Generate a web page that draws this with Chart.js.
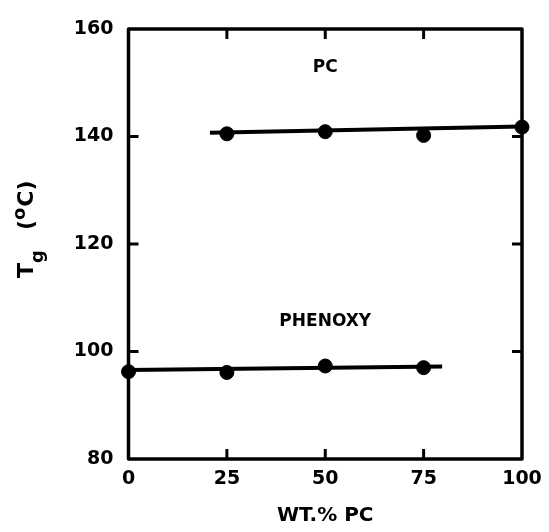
<!DOCTYPE html>
<html>
<head>
<meta charset="utf-8">
<script src="https://cdn.jsdelivr.net/npm/chart.js@4.4.1/dist/chart.umd.min.js"></script>
<style>
  html, body { margin: 0; padding: 0; background: #fff; }
  #wrap { width: 549px; height: 532px; position: relative; }
</style>
</head>
<body>
<div id="wrap"><canvas id="c" width="549" height="532"></canvas></div>
<script>
// Glass transition temperature of PC / phenoxy blends
const wtPC = [0, 25, 50, 75, 100];

// Upper Tg (PC-rich phase)
const pcX = [25, 50, 75, 100];
const pcTg = [140.5, 140.9, 140.2, 141.75];
const pcFitX = [20.7, 100];
const pcFitTg = [140.7, 141.85];

// Lower Tg (phenoxy-rich phase)
const phenoxyX = [0, 25, 50, 75];
const phenoxyTg = [96.25, 96.1, 97.3, 97.0];
const phenoxyFitX = [0, 79.7];
const phenoxyFitTg = [96.55, 97.2];

const xTicks = [0, 25, 50, 75, 100];
const yTicks = [80, 100, 120, 140, 160];

const FONT = '"DejaVu Sans", sans-serif';
const INK = '#000';

const pts = (xs, ys) => xs.map((x, i) => ({ x: x, y: ys[i] }));

// Frame around the plot with short inward tick marks on all four sides
const framePlugin = {
  id: 'frame',
  afterDraw(chart) {
    const { ctx, chartArea: a, scales } = chart;
    ctx.save();
    ctx.strokeStyle = INK;
    ctx.lineWidth = 3.5;
    ctx.lineJoin = 'round';
    ctx.strokeRect(a.left, a.top, a.right - a.left, a.bottom - a.top);
    const len = 10;
    ctx.lineWidth = 3;
    ctx.beginPath();
    xTicks.slice(1, -1).forEach(v => {
      const px = scales.x.getPixelForValue(v);
      ctx.moveTo(px, a.top); ctx.lineTo(px, a.top + len);
      ctx.moveTo(px, a.bottom); ctx.lineTo(px, a.bottom - len);
    });
    yTicks.slice(1, -1).forEach(v => {
      const py = scales.y.getPixelForValue(v);
      ctx.moveTo(a.left, py); ctx.lineTo(a.left + len, py);
      ctx.moveTo(a.right, py); ctx.lineTo(a.right - len, py);
    });
    ctx.stroke();
    ctx.restore();
  }
};

// Curve names and the rotated y-axis title with sub/superscripts
const labelPlugin = {
  id: 'labels',
  afterDraw(chart) {
    const { ctx, scales } = chart;
    ctx.save();
    ctx.fillStyle = INK;
    ctx.textAlign = 'center';
    ctx.textBaseline = 'middle';
    ctx.font = 'bold 17px ' + FONT;
    ctx.fillText('PC', scales.x.getPixelForValue(50), scales.y.getPixelForValue(152.8));
    ctx.fillText('PHENOXY', scales.x.getPixelForValue(50), scales.y.getPixelForValue(105.5));

    // "T_g (°C)" read bottom-to-top
    ctx.translate(33, 278);
    ctx.rotate(-Math.PI / 2);
    ctx.textAlign = 'left';
    ctx.textBaseline = 'alphabetic';
    const big = 'bold 22px ' + FONT;
    const small = 'bold 18px ' + FONT;
    let x = 0;
    ctx.font = big; ctx.fillText('T', x, 0); x += ctx.measureText('T').width;
    ctx.font = small; ctx.fillText('g', x, 10); x += ctx.measureText('g').width + 20;
    ctx.font = big; ctx.fillText('(', x, 0); x += ctx.measureText('(').width;
    ctx.font = small; ctx.fillText('o', x, -8); x += ctx.measureText('o').width + 1;
    ctx.font = big; ctx.fillText('C)', x, 0);
    ctx.restore();
  }
};

new Chart(document.getElementById('c'), {
  type: 'scatter',
  data: {
    datasets: [
      { label: 'PC fit', data: pts(pcFitX, pcFitTg), showLine: true, borderColor: INK, borderWidth: 4, pointRadius: 0, order: 2 },
      { label: 'Phenoxy fit', data: pts(phenoxyFitX, phenoxyFitTg), showLine: true, borderColor: INK, borderWidth: 4, pointRadius: 0, order: 2 },
      { label: 'PC', data: pts(pcX, pcTg), backgroundColor: INK, borderColor: INK, pointRadius: 7, order: 1 },
      { label: 'Phenoxy', data: pts(phenoxyX, phenoxyTg), backgroundColor: INK, borderColor: INK, pointRadius: 7, order: 1 }
    ]
  },
  options: {
    responsive: false,
    animation: false,
    clip: false,
    layout: { padding: { left: 0, right: 27, top: 29, bottom: 0 } },
    plugins: { legend: { display: false }, tooltip: { enabled: false } },
    scales: {
      x: {
        type: 'linear', min: 0, max: 100,
        afterBuildTicks: s => { s.ticks = xTicks.map(v => ({ value: v })); },
        afterFit: s => { s.height = 73; s.paddingLeft = 0; s.paddingRight = 0; },
        grid: { display: false, drawTicks: false },
        border: { display: false },
        ticks: { color: INK, padding: 9, font: { family: FONT, size: 19, weight: 'bold' } },
        title: { display: true, text: 'WT.% PC', color: INK, padding: { top: 12 }, font: { family: FONT, size: 20, weight: 'bold' } }
      },
      y: {
        type: 'linear', min: 80, max: 160,
        afterBuildTicks: s => { s.ticks = yTicks.map(v => ({ value: v })); },
        afterFit: s => { s.width = 128.5; s.paddingTop = 0; s.paddingBottom = 0; },
        grid: { display: false, drawTicks: false },
        border: { display: false },
        ticks: { color: INK, padding: 15, font: { family: FONT, size: 19, weight: 'bold' } }
      }
    }
  },
  plugins: [framePlugin, labelPlugin]
});
</script>
</body>
</html>
